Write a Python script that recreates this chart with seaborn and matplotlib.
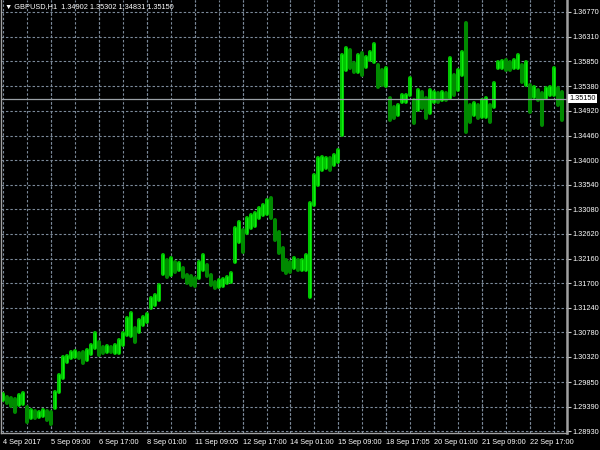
import numpy as np
import pandas as pd
import matplotlib
matplotlib.use("Agg")
import matplotlib.pyplot as plt
import matplotlib.transforms as mtransforms
import seaborn as sns

# GBPUSD H1 (one entry every ~2.7 hourly bars)
high = [
    1.2963, 1.2957, 1.2955, 1.2953, 1.2961, 1.2965, 1.2938, 1.2933, 1.2931, 1.2929,
    1.2933, 1.2931, 1.2929, 1.2966, 1.2998, 1.3032, 1.3034, 1.3041, 1.3043, 1.3039,
    1.3041, 1.3045, 1.3054, 1.3077, 1.3060, 1.3051, 1.3052, 1.3051, 1.3054, 1.3064,
    1.3077, 1.3105, 1.3114, 1.3086, 1.3101, 1.3107, 1.3112, 1.3142, 1.3148, 1.3166,
    1.3223, 1.3213, 1.3217, 1.3209, 1.3208, 1.3198, 1.3185, 1.3183, 1.3180, 1.3209,
    1.3223, 1.3204, 1.3185, 1.3172, 1.3176, 1.3178, 1.3181, 1.3189, 1.3273, 1.3284,
    1.3269, 1.3292, 1.3297, 1.3301, 1.3310, 1.3316, 1.3325, 1.3329, 1.3288, 1.3266,
    1.3236, 1.3213, 1.3209, 1.3217, 1.3213, 1.3213, 1.3223, 1.3320, 1.3372, 1.3404,
    1.3406, 1.3404, 1.3404, 1.3410, 1.3419, 1.3597, 1.3610, 1.3606, 1.3582, 1.3597,
    1.3600, 1.3593, 1.3602, 1.3617, 1.3578, 1.3569, 1.3572, 1.3516, 1.3499, 1.3503,
    1.3522, 1.3522, 1.3554, 1.3512, 1.3531, 1.3527, 1.3516, 1.3531, 1.3527, 1.3526,
    1.3527, 1.3526, 1.3591, 1.3559, 1.3569, 1.3602, 1.3656, 1.3503, 1.3507, 1.3503,
    1.3512, 1.3516, 1.3503, 1.3544, 1.3584, 1.3585, 1.3587, 1.3584, 1.3587, 1.3597,
    1.3578, 1.3584, 1.3540, 1.3537, 1.3531, 1.3526, 1.3535, 1.3537, 1.3572, 1.3535,
    1.3527,
]
low = [
    1.2951, 1.2946, 1.2940, 1.2929, 1.2942, 1.2944, 1.2910, 1.2918, 1.2918, 1.2920,
    1.2922, 1.2914, 1.2907, 1.2936, 1.2966, 1.2993, 1.3022, 1.3030, 1.3032, 1.3030,
    1.3021, 1.3026, 1.3037, 1.3049, 1.3036, 1.3039, 1.3041, 1.3041, 1.3039, 1.3039,
    1.3054, 1.3073, 1.3071, 1.3060, 1.3079, 1.3092, 1.3097, 1.3123, 1.3129, 1.3138,
    1.3187, 1.3181, 1.3185, 1.3191, 1.3195, 1.3181, 1.3170, 1.3166, 1.3165, 1.3180,
    1.3195, 1.3183, 1.3166, 1.3161, 1.3163, 1.3165, 1.3170, 1.3172, 1.3209, 1.3247,
    1.3228, 1.3264, 1.3273, 1.3277, 1.3292, 1.3297, 1.3299, 1.3292, 1.3251, 1.3226,
    1.3195, 1.3189, 1.3191, 1.3198, 1.3195, 1.3195, 1.3195, 1.3144, 1.3316, 1.3353,
    1.3382, 1.3385, 1.3382, 1.3391, 1.3397, 1.3447, 1.3569, 1.3572, 1.3565, 1.3565,
    1.3559, 1.3574, 1.3587, 1.3584, 1.3537, 1.3540, 1.3539, 1.3475, 1.3479, 1.3484,
    1.3509, 1.3509, 1.3522, 1.3469, 1.3494, 1.3497, 1.3479, 1.3488, 1.3509, 1.3509,
    1.3512, 1.3512, 1.3516, 1.3522, 1.3531, 1.3559, 1.3453, 1.3471, 1.3484, 1.3479,
    1.3481, 1.3481, 1.3471, 1.3499, 1.3572, 1.3572, 1.3569, 1.3569, 1.3572, 1.3572,
    1.3546, 1.3540, 1.3490, 1.3518, 1.3512, 1.3466, 1.3516, 1.3522, 1.3522, 1.3503,
    1.3475,
]
last_price = 1.35150
header = "\u25bc GBPUSD,H1  1.34902 1.35302 1.34831 1.35150"

price_ticks = [1.36770, 1.36310, 1.35850, 1.35380, 1.34920, 1.34460, 1.34000,
               1.33540, 1.33080, 1.32620, 1.32160, 1.31700, 1.31240, 1.30780,
               1.30320, 1.29850, 1.29390, 1.28930]
time_labels = ["4 Sep 2017", "5 Sep 09:00", "6 Sep 17:00", "8 Sep 01:00",
               "11 Sep 09:05", "12 Sep 17:00", "14 Sep 01:00", "15 Sep 09:00",
               "18 Sep 17:05", "20 Sep 01:00", "21 Sep 09:00", "22 Sep 17:00"]

n = len(high)
mid = (np.array(high) + np.array(low)) / 2
direction = np.where(np.diff(mid, prepend=mid[0]) >= 0, "up", "down")
bars = pd.DataFrame({
    "bar": np.repeat(np.arange(n), 2),
    "price": np.column_stack([low, high]).ravel(),
    "dir": np.repeat(direction, 2),
})

sns.set_theme(style="dark")
plt.rcParams["font.family"] = ["Liberation Sans", "DejaVu Sans"]
grid_col = "#7c8a9a"
dash = (0, (2.2, 1.8))

fig = plt.figure(figsize=(6, 4.5), dpi=100, facecolor="black")
ax = fig.add_axes([1 / 600, 17 / 450, 566 / 600, 433 / 450])
ax.set_facecolor("black")

# each bar = one vertical segment low -> high
sns.lineplot(data=bars, x="bar", y="price", units="bar", estimator=None,
             hue="dir", palette={"up": "#00c400", "down": "#008a00"},
             linewidth=2.9, legend=False, sort=False, ax=ax)
# thin bright core gives the lime texture of the terminal bars
sns.lineplot(data=bars[bars["dir"] == "up"], x="bar", y="price", units="bar",
             estimator=None, color="#10f010", linewidth=0.8, legend=False,
             sort=False, ax=ax)

ax.set_xlim(-0.5, n + 0.25)
ax.set_ylim(1.28897, 1.36994)

ax.yaxis.tick_right()
ax.set_yticks(price_ticks)
ax.set_yticklabels([f"{p:.5f}" for p in price_ticks])
ax.set_xticks(range(0, 12 * len(time_labels), 12))
ax.set_xticklabels(time_labels, ha="left")
ax.set_xticks(range(6, n, 6), minor=True)
ax.xaxis.remove_overlapping_locs = False

ax.grid(axis="y", color=grid_col, linestyle=dash, linewidth=0.8)
ax.grid(axis="x", which="both", color=grid_col, linestyle=dash, linewidth=0.8)
ax.tick_params(axis="both", which="major", length=3, width=0.8, color="#c8c8c8",
               labelsize=5.3, labelcolor="white", direction="out")
ax.tick_params(axis="y", pad=1.2)
ax.tick_params(axis="x", pad=1.5)
ax.tick_params(axis="x", which="minor", length=0)
ax.set_xlabel("")
ax.set_ylabel("")

for side in ["left", "right", "bottom"]:
    ax.spines[side].set_visible(True)
    ax.spines[side].set_color("#a0a0a0")
ax.spines["right"].set_linewidth(1.8)
ax.spines["left"].set_linewidth(1.0)
ax.spines["bottom"].set_linewidth(1.0)
ax.spines["top"].set_visible(False)

ax.axhline(last_price, color="#9aa0a6", linewidth=0.9)
trans = mtransforms.blended_transform_factory(ax.transAxes, ax.transData)
ax.text(1.004, last_price, f"{last_price:.5f}", transform=trans, ha="left",
        va="center", fontsize=5.3, color="black", clip_on=False,
        bbox=dict(boxstyle="square,pad=0.18", fc="white", ec="none"))

fig.text(5 / 600, 1 - 7 / 450, header, ha="left", va="center",
         fontsize=5.3, color="white")

fig.savefig("out.png", dpi=100, facecolor="black")
